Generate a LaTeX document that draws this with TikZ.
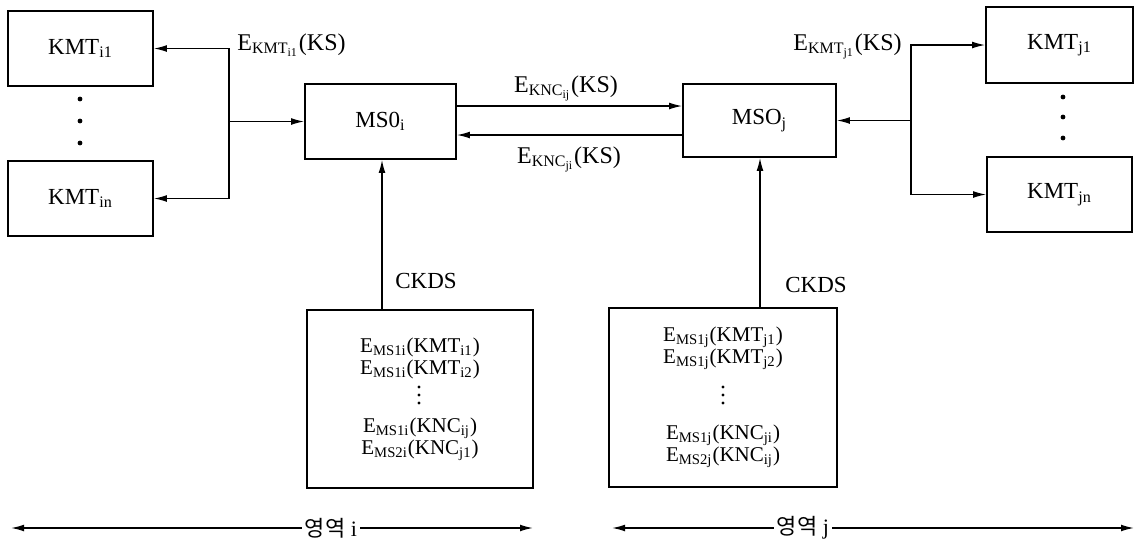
\documentclass[tikz,border=0pt]{standalone}
\usepackage{fontspec}
\setmainfont{Liberation Serif}
\newfontfamily\kofont{Noto Sans CJK KR}
\usetikzlibrary{arrows.meta}
\tikzset{
    caja/.style={draw, line width=0.8pt, inner sep=0pt, minimum width=72.5pt, minimum height=37.5pt, font=\fontsize{11.5}{13}\selectfont},
    lista/.style={caja, align=center, font=\fontsize{10.5}{11}\selectfont},
    flecha/.style={line width=0.7pt, -{Latex[length=6.5pt,width=3.4pt]}},
    etiqueta/.style={inner sep=0pt, anchor=base west, font=\fontsize{12}{14}\selectfont},
    zona/.style={inner sep=1.5pt, font=\fontsize{11}{13}\selectfont},
}

\begin{document}
\begin{tikzpicture}[x=0.5pt, y=-0.5pt]
\useasboundingbox (0,0) rectangle (1136,543);
\node[caja] (kmti1) at (80.5,48.5) {KMT\textsubscript{i1}};
\node[caja] (kmtin) at (80.5,198.5) {KMT\textsubscript{in}};
\node[caja, minimum width=75.5pt] (msoi) at (380.5,121.5) {MS0\textsubscript{i}};
\node[caja, minimum width=76.5pt, minimum height=36.5pt] (msoj) at (759.5,120.5) {MSO\textsubscript{j}};
\node[caja, minimum width=73.5pt, minimum height=38pt] (kmtj1) at (1059.5,45) {KMT\textsubscript{j1}};
\node[caja] (kmtjn) at (1059.5,194.5) {KMT\textsubscript{jn}};
\node[lista, minimum width=113pt, minimum height=89pt] (dbi) at (420,399) {
E\textsubscript{MS1i}(KMT\textsubscript{i1})\\
E\textsubscript{MS1i}(KMT\textsubscript{i2})\\[18pt]
E\textsubscript{MS1i}(KNC\textsubscript{ij})\\
E\textsubscript{MS2i}(KNC\textsubscript{j1})};
\node[lista, minimum width=114pt, minimum height=89.5pt] (dbj) at (723,397.5) {
E\textsubscript{MS1j}(KMT\textsubscript{j1})\\
E\textsubscript{MS1j}(KMT\textsubscript{j2})\\[27pt]
E\textsubscript{MS1j}(KNC\textsubscript{ji})\\
E\textsubscript{MS2j}(KNC\textsubscript{ij})};

\fill (80,99) circle (1.2pt);
\fill (80,121) circle (1.2pt);
\fill (80,143) circle (1.2pt);
\fill (1063,97) circle (1.2pt);
\fill (1063,117) circle (1.2pt);
\fill (1063,138) circle (1.2pt);
\fill (419,387) circle (0.8pt);
\fill (419,395) circle (0.8pt);
\fill (419,403) circle (0.8pt);
\fill (723,387) circle (0.8pt);
\fill (723,395) circle (0.8pt);
\fill (723,403) circle (0.8pt);

\coordinate (ji) at (229,121.5);
\coordinate (jj) at (911,120.5);
\coordinate (ka) at (570,106);
\coordinate (kb) at (570,135);
\coordinate (ci) at (382,0);
\coordinate (cj) at (760,0);
\draw[flecha] (ji) |- (kmti1.east);
\draw[flecha] (ji) |- (kmtin.east);
\draw[flecha] (ji) -- (msoi.west);
\draw[flecha] (jj) |- (kmtj1.west);
\draw[flecha] (jj) |- (kmtjn.west);
\draw[flecha] (jj) -- (msoj.east);
\draw[flecha] (msoi.east |- ka) -- (msoj.west |- ka);
\draw[flecha] (msoj.west |- kb) -- (msoi.east |- kb);
\draw[flecha] (dbi.north -| ci) -- (msoi.south -| ci);
\draw[flecha] (dbj.north -| cj) -- (msoj.south -| cj);

\node[etiqueta] (lki) at (237,50) {E\textsubscript{KMT\textsubscript{i1}}(KS)};
\node[etiqueta] (lkj) at (793,50) {E\textsubscript{KMT\textsubscript{j1}}(KS)};
\node[etiqueta, anchor=base] (lij) at (566,92) {E\textsubscript{KNC\textsubscript{ij}}(KS)};
\node[etiqueta, anchor=base] (lji) at (569,163) {E\textsubscript{KNC\textsubscript{ji}}(KS)};
\node[etiqueta, font=\fontsize{11.5}{13}\selectfont] (cki) at (395,288) {CKDS};
\node[etiqueta, font=\fontsize{11.5}{13}\selectfont] (ckj) at (785,292) {CKDS};

\coordinate (ai) at (11,528);
\coordinate (bi) at (533,528);
\coordinate (aj) at (612,528);
\coordinate (bj) at (1134,528);
\node[zona] (zi) at (331,528) {{\kofont 영역} i};
\node[zona] (zj) at (803,528) {{\kofont 영역} j};
\draw[flecha] (zi.west) -- (ai);
\draw[flecha] (zi.east) -- (bi);
\draw[flecha] (zj.west) -- (aj);
\draw[flecha] (zj.east) -- (bj);
\end{tikzpicture}
\end{document}
